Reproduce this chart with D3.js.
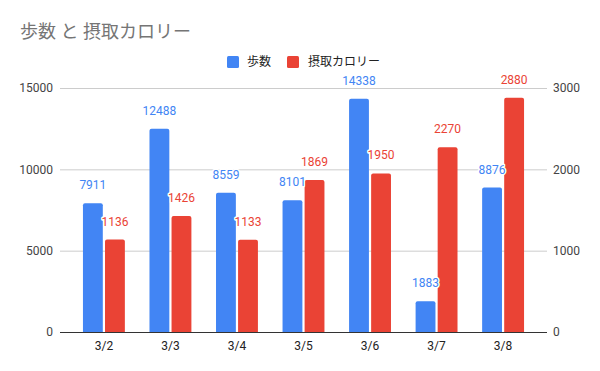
<!DOCTYPE html>
<html>
<head>
<meta charset="utf-8">
<script src="https://cdn.jsdelivr.net/npm/d3@7"></script>
<style>
  body { margin: 0; background: #fff; }
  text { font-family: Roboto, "Noto Sans CJK JP", sans-serif; }
</style>
</head>
<body>
<div id="wrapper"></div>
<script>
// data
const days = ["3/2", "3/3", "3/4", "3/5", "3/6", "3/7", "3/8"]
const steps = [7911, 12488, 8559, 8101, 14338, 1883, 8876]
const calories = [1136, 1426, 1133, 1869, 1950, 2270, 2880]
const leftTicks = [0, 5000, 10000, 15000]
const rightTicks = [0, 1000, 2000, 3000]

const seriesNames = ["歩数", "摂取カロリー"]
const colors = ["#4285f4", "#ea4335"]

let dimensions = {
  width: 600,
  height: 371,
  margin: { top: 88, right: 53, bottom: 39, left: 60 }
}
dimensions.boundedWidth = dimensions.width - dimensions.margin.left - dimensions.margin.right
dimensions.boundedHeight = dimensions.height - dimensions.margin.top - dimensions.margin.bottom

const wrapper = d3.select("#wrapper").append("svg")
  .attr("width", dimensions.width)
  .attr("height", dimensions.height)

const bounds = wrapper.append("g")
  .attr("transform", `translate(${dimensions.margin.left},${dimensions.margin.top})`)

// scales
const xScale = d3.scaleBand().domain(days)
  .range([0, dimensions.boundedWidth])
  .paddingInner(0.37)
  .paddingOuter(0.345)

const subScale = d3.scaleBand().domain([0, 1])
  .range([0, xScale.bandwidth()])
  .paddingInner(0.1)

const yLeft = d3.scaleLinear().domain([0, 15000]).range([dimensions.boundedHeight, 0])
const yRight = d3.scaleLinear().domain([0, 3000]).range([dimensions.boundedHeight, 0])

// gridlines
bounds.append("g")
  .selectAll("line")
  .data(leftTicks.slice(1))
  .enter().append("line")
  .attr("x1", 0)
  .attr("x2", dimensions.boundedWidth)
  .attr("y1", d => yLeft(d) + 0.5)
  .attr("y2", d => yLeft(d) + 0.5)
  .attr("stroke", "#cccccc")

// left axis
const yAxisLeft = bounds.append("g")
  .call(d3.axisLeft(yLeft).tickValues(leftTicks).tickFormat(d3.format("d")).tickSize(0).tickPadding(7))
yAxisLeft.select(".domain").remove()
yAxisLeft.selectAll("text").attr("fill", "#444").style("font-size", "12px")

// right axis
const yAxisRight = bounds.append("g")
  .attr("transform", `translate(${dimensions.boundedWidth},0)`)
  .call(d3.axisRight(yRight).tickValues(rightTicks).tickFormat(d3.format("d")).tickSize(0).tickPadding(6))
yAxisRight.select(".domain").remove()
yAxisRight.selectAll("text").attr("fill", "#444").style("font-size", "12px")

// bars with slightly rounded tops
const barPath = (x, y, w, h, r) => {
  r = Math.min(r, h)
  return `M${x},${y + h}V${y + r}Q${x},${y} ${x + r},${y}H${x + w - r}Q${x + w},${y} ${x + w},${y + r}V${y + h}Z`
}

const seriesData = [
  { values: steps, scale: yLeft },
  { values: calories, scale: yRight }
]

seriesData.forEach((s, i) => {
  const g = bounds.append("g")
  g.selectAll("path")
    .data(days)
    .enter().append("path")
    .attr("d", (d, j) => {
      const x = xScale(d) + subScale(i)
      const y = s.scale(s.values[j])
      return barPath(x, y, subScale.bandwidth(), dimensions.boundedHeight - y, 2)
    })
    .attr("fill", colors[i])
})

// value labels (drawn after all bars so they sit on top)
seriesData.forEach((s, i) => {
  bounds.append("g")
    .selectAll("text")
    .data(days)
    .enter().append("text")
    .attr("x", d => xScale(d) + subScale(i) + subScale.bandwidth() / 2)
    .attr("y", (d, j) => s.scale(s.values[j]) - 14)
    .attr("text-anchor", "middle")
    .attr("fill", colors[i])
    .attr("stroke", "#fff")
    .attr("stroke-width", 3)
    .attr("stroke-linejoin", "round")
    .style("paint-order", "stroke")
    .style("font-size", "12px")
    .text((d, j) => s.values[j])
})

// baseline
bounds.append("line")
  .attr("x1", 0)
  .attr("x2", dimensions.boundedWidth)
  .attr("y1", dimensions.boundedHeight + 0.5)
  .attr("y2", dimensions.boundedHeight + 0.5)
  .attr("stroke", "#333")

// x axis labels
const xAxis = bounds.append("g")
  .attr("transform", `translate(0,${dimensions.boundedHeight})`)
  .call(d3.axisBottom(xScale).tickSize(0).tickPadding(9))
xAxis.select(".domain").remove()
xAxis.selectAll("text").attr("fill", "#222").style("font-size", "12px")

// title
wrapper.append("text")
  .attr("x", 20)
  .attr("y", 38)
  .attr("fill", "#757575")
  .style("font-size", "18px")
  .text("歩数 と 摂取カロリー")

// legend
const legendItems = [
  { x: 227, textX: 247 },
  { x: 287, textX: 308 }
]
const legend = wrapper.append("g")
legend.selectAll("rect")
  .data(legendItems)
  .enter().append("rect")
  .attr("x", d => d.x)
  .attr("y", 56)
  .attr("width", 12)
  .attr("height", 12)
  .attr("rx", 1.5)
  .attr("fill", (d, i) => colors[i])
legend.selectAll("text")
  .data(legendItems)
  .enter().append("text")
  .attr("x", d => d.textX)
  .attr("y", 66)
  .attr("fill", "#222")
  .style("font-size", "12px")
  .text((d, i) => seriesNames[i])
</script>
</body>
</html>
